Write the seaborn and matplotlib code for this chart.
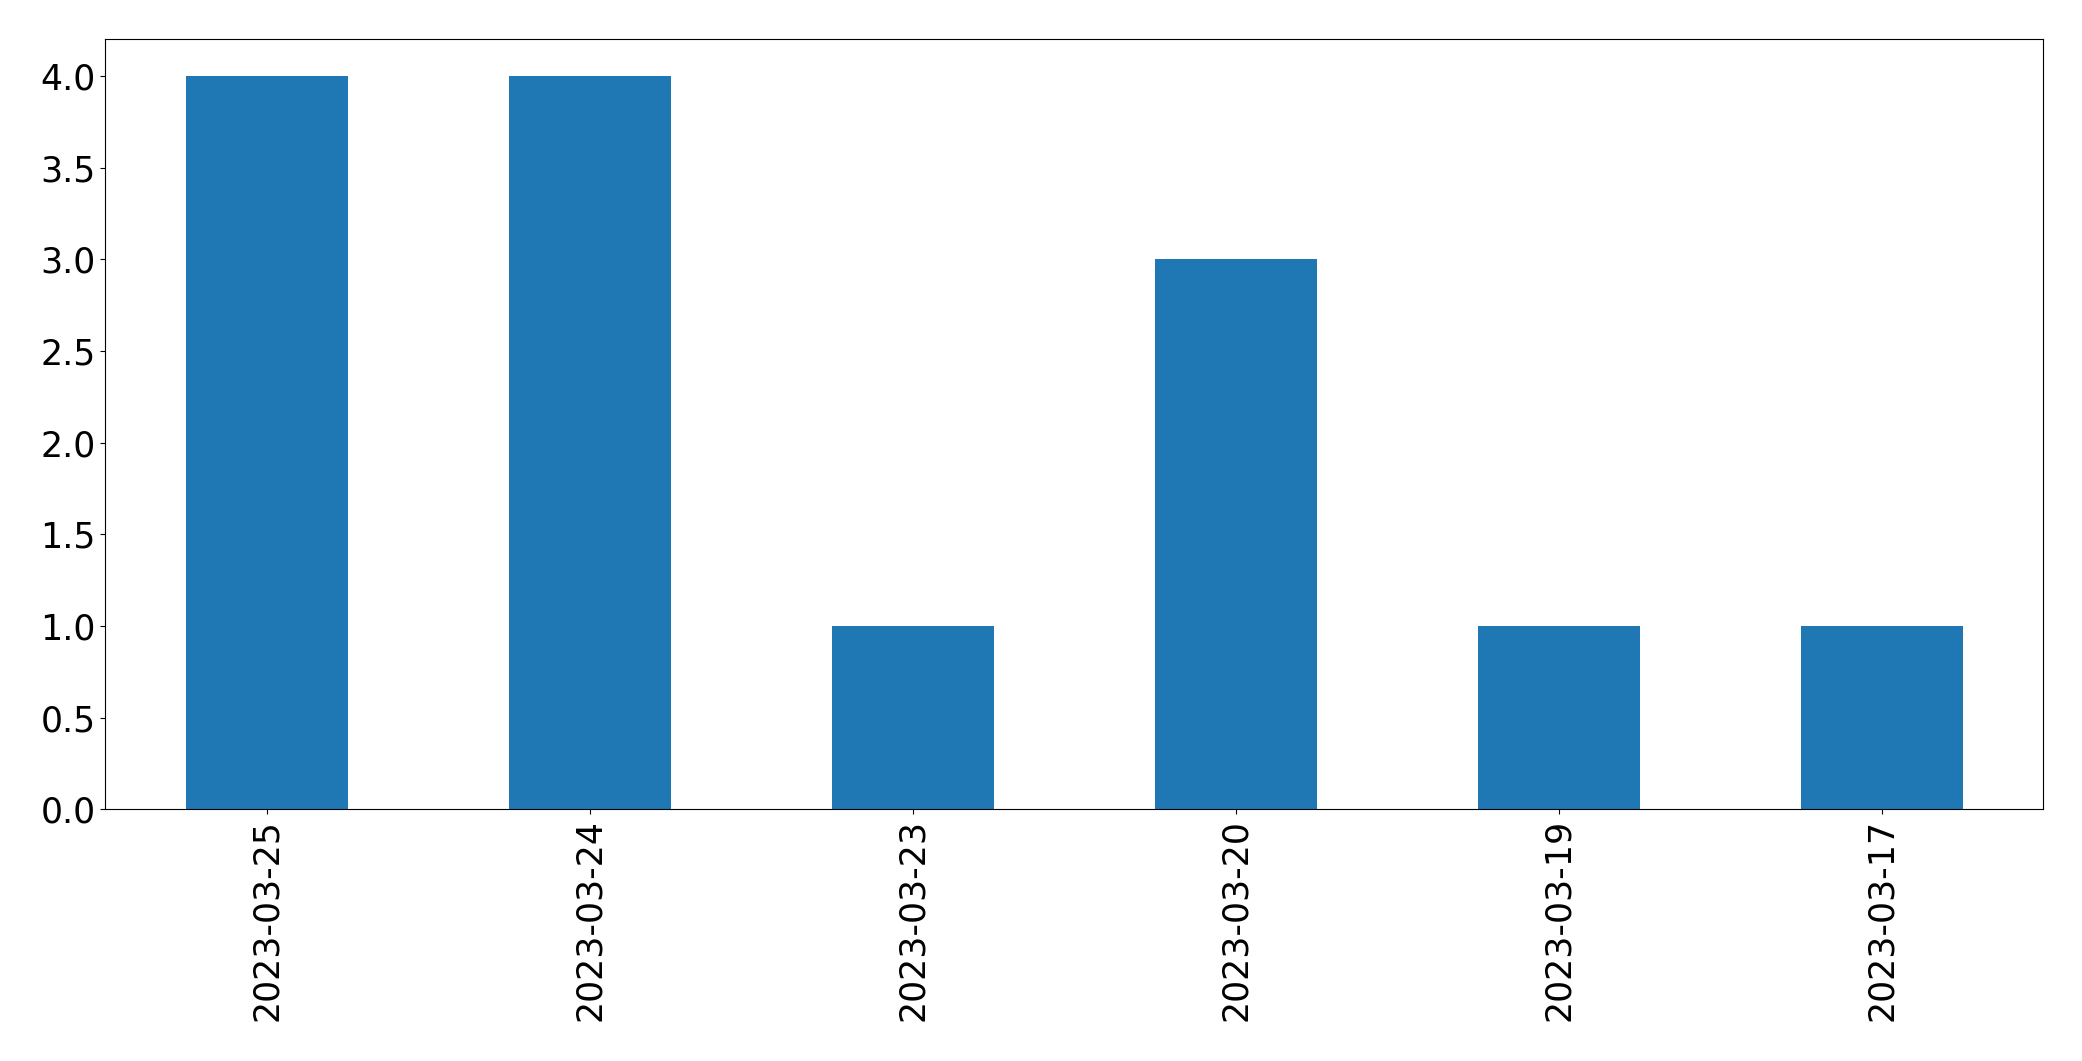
import matplotlib
matplotlib.use("Agg")
import matplotlib.pyplot as plt
import seaborn as sns
import pandas as pd

dates = ["2023-03-25", "2023-03-24", "2023-03-23", "2023-03-20", "2023-03-19", "2023-03-17"]
counts = [4, 4, 1, 3, 1, 1]

df = pd.DataFrame({"date": dates, "count": counts})

plt.rcParams["font.family"] = ["DejaVu Sans"]
fig, ax = plt.subplots(figsize=(20.82, 10.61), dpi=100)
fig.subplots_adjust(left=0.0506, right=0.9814, top=0.963, bottom=0.2372)

sns.barplot(data=df, x="date", y="count", order=dates, color="#1f77b4",
            saturation=1, width=0.5, ax=ax, errorbar=None, linewidth=0)

ax.set_xlim(-0.5, len(dates) - 0.5)
ax.set_ylim(0, 4.2)
ax.set_yticks([0, 0.5, 1.0, 1.5, 2.0, 2.5, 3.0, 3.5, 4.0])
ax.set_xlabel("")
ax.set_ylabel("")
ax.tick_params(axis="both", labelsize=25)
ax.tick_params(axis="x", labelrotation=90)
for s in ax.spines.values():
    s.set_visible(True)
    s.set_color("black")

fig.savefig("out.png", dpi=100)
